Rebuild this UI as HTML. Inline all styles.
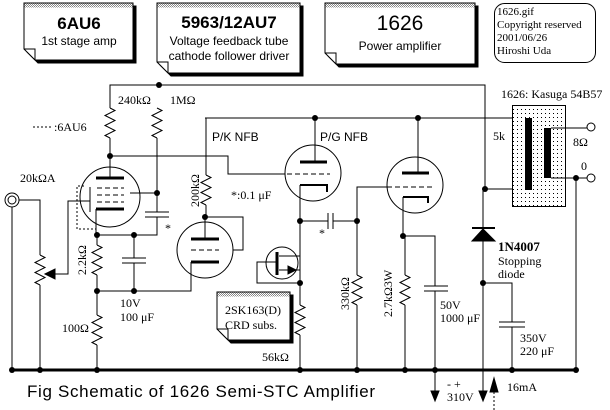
<!DOCTYPE html>
<html><head><meta charset="utf-8"><style>
html,body{margin:0;padding:0;background:#fff}
svg{display:block}
.s{font-family:"Liberation Serif",serif;font-size:12px}
.a{font-family:"Liberation Sans",sans-serif}
</style></head><body>
<svg width="610" height="410" viewBox="0 0 610 410" xmlns="http://www.w3.org/2000/svg">
<defs>
<polyline id="R" points="0,0 5,2.5 -5,7.5 5,12.5 -5,17.5 5,22.5 -5,27.5 0,30" fill="none" stroke="#000"/>
<pattern id="dp" width="4" height="4" patternUnits="userSpaceOnUse"><rect width="4" height="4" fill="#fff"/><rect x="1" y="1" width="1" height="1" fill="#000"/></pattern>
<pattern id="gp" width="2" height="2" patternUnits="userSpaceOnUse"><rect width="2" height="2" fill="#fff"/><rect width="1" height="1" fill="#888"/><rect x="1" y="1" width="1" height="1" fill="#888"/></pattern>
</defs>
<g fill="none" stroke="#000" stroke-width="1">
<polygon points="27,6 136,6 136,63 38,63 27,52" fill="#000"/>
<polygon points="24,3 133,3 133,60 35,60 24,49" fill="#fff"/>
<rect x="24.5" y="3.5" width="108" height="4" fill="url(#gp)" stroke="none"/>
<polyline points="24,49 35,49 35,60"/>
<polygon points="160,6 303,6 303,76 171,76 160,65" fill="#000"/>
<polygon points="157,3 300,3 300,73 168,73 157,62" fill="#fff"/>
<rect x="157.5" y="3.5" width="142" height="4" fill="url(#gp)" stroke="none"/>
<polyline points="157,62 168,62 168,73"/>
<polygon points="328,6 478,6 478,67 339,67 328,56" fill="#000"/>
<polygon points="325,3 475,3 475,64 336,64 325,53" fill="#fff"/>
<rect x="325.5" y="3.5" width="149" height="4" fill="url(#gp)" stroke="none"/>
<polyline points="325,53 336,53 336,64"/>
<rect x="494.5" y="3.5" width="101" height="59" rx="10"/>
<polygon points="220,295 293,295 293,343 231,343 220,332" fill="#000"/>
<polygon points="217,292 290,292 290,340 228,340 217,329" fill="#fff"/>
<rect x="217.5" y="292.5" width="72" height="4" fill="url(#gp)" stroke="none"/>
<polyline points="217,329 228,329 228,340"/>

<path d="M110,108V85H485V189H525"/>
<path d="M205,118H525"/>
<path d="M12,370H576" stroke-width="3"/>
<use href="#R" x="110" y="108"/><use href="#R" x="157" y="108"/>
<use href="#R" x="206" y="175"/><use href="#R" x="97" y="245"/>
<use href="#R" x="97" y="315"/><use href="#R" x="40" y="255"/>
<use href="#R" x="300" y="305"/><use href="#R" x="357" y="275"/>
<use href="#R" x="405" y="275"/>
<circle cx="110" cy="197" r="30"/>
<path d="M110,138V178"/>
<path d="M96,178H124" stroke-width="3"/>
<path d="M97,188H124M97,195H124M97,202H124" stroke-dasharray="5,3"/>
<path d="M96,209H124" stroke-width="3"/>
<path d="M96,209V235H157V217M157,212V138"/>
<path d="M145,212H169M145,217H169"/>
<path d="M130,193H157"/>
<path d="M110,156H228V174H285"/>
<path d="M90,187V212M90,201H68V274H55"/>
<polygon points="45,274 55,269 55,279" fill="#000"/>
<path d="M84,186H77V229H96" stroke-dasharray="2,2"/>
<path d="M97,235V245M97,275V315M97,345V370M40,255V200H19M40,285V370M12,207V370"/>
<circle cx="12" cy="200" r="7"/><circle cx="12" cy="200" r="4"/>
<path d="M134,235V258M134,263V291M97,291H191V262"/>
<path d="M122,258H146M122,263H146"/>
<circle cx="205" cy="250" r="28"/>
<path d="M206,205V217M205,217V239M205,217H243V250H233"/>
<path d="M191,239H219M191,262H219" stroke-width="3"/>
<path d="M191,250H219" stroke-dasharray="5,3"/>
<path d="M206,118V175"/>
<circle cx="313" cy="173" r="28"/>
<path d="M315,118V162"/>
<path d="M300,162H327" stroke-width="3"/>
<path d="M287,174H330" stroke-dasharray="5,3"/>
<path d="M300,185H327V192" stroke-width="2"/>
<path d="M300,185V283M300,221H328M333,221H357"/>
<path d="M328,213V229M333,213V229"/>
<circle cx="282" cy="263" r="16"/>
<path d="M277,252V275" stroke-width="3"/>
<path d="M279,256H300M279,270H300M277,262H257V283H300V305M300,335V370"/>
<polygon points="296,270 288,266 288,274" fill="#000"/>
<circle cx="415" cy="185" r="28"/>
<path d="M418,118V173"/>
<path d="M402,173H429" stroke-width="3"/>
<path d="M387,187H432" stroke-dasharray="5,3"/>
<path d="M403,197H428V203" stroke-width="2"/>
<path d="M357,221V187H387M357,221V275M357,305V370"/>
<path d="M403,197V236H435V286M435,291V370M405,236V275M405,305V370"/>
<path d="M424,286H448M424,291H448"/>
<rect x="512.5" y="105.5" width="53" height="101" fill="url(#dp)"/>
<rect x="525" y="118" width="7" height="72" fill="#000" stroke="none"/>
<rect x="544" y="128" width="7" height="50" fill="#000" stroke="none"/>
<path d="M551,128H587M551,178H587M576,178V370"/>
<circle cx="591" cy="127" r="4" fill="#fff"/><circle cx="591" cy="178" r="4" fill="#fff"/>
<path d="M483,189V400M483,283H512V322M512,327V370M435,370V395"/>
<path d="M472,228H495" stroke-width="2"/>
<polygon points="483,229 472,241 495,241" fill="#000"/>
<path d="M499,322H525M499,327H525"/>
<polygon points="435,401 431,391 439,391" fill="#000"/>
<polygon points="483,401 479,391 487,391" fill="#000"/>
<polygon points="494,378 490,392 498,392" fill="#000"/>
<path d="M494,392V410" stroke-dasharray="2,2"/>
<path d="M33,127H52" stroke-dasharray="2,2"/>
</g>
<g fill="#000">
<circle cx="159" cy="85" r="3"/><circle cx="110" cy="156" r="3"/><circle cx="157" cy="193" r="3"/>
<circle cx="97" cy="235" r="3"/><circle cx="134" cy="235" r="3"/><circle cx="97" cy="291" r="3"/><circle cx="134" cy="291" r="3"/>
<circle cx="205" cy="217" r="3"/><circle cx="315" cy="118" r="3"/><circle cx="418" cy="118" r="3"/>
<circle cx="300" cy="221" r="3"/><circle cx="357" cy="221" r="3"/><circle cx="300" cy="283" r="3"/>
<circle cx="403" cy="236" r="3"/><circle cx="485" cy="189" r="3"/><circle cx="483" cy="283" r="3"/><circle cx="576" cy="178" r="3"/>
<circle cx="12" cy="370" r="3"/><circle cx="40" cy="370" r="3"/><circle cx="97" cy="370" r="3"/><circle cx="300" cy="370" r="3"/>
<circle cx="357" cy="370" r="3"/><circle cx="405" cy="370" r="3"/><circle cx="435" cy="370" r="3"/><circle cx="512" cy="370" r="3"/><circle cx="576" cy="370" r="3"/>
</g>
<g class="a" text-anchor="middle">
<text x="79" y="29" font-size="17" font-weight="bold">6AU6</text>
<text x="79" y="45" font-size="12">1st stage amp</text>
<text x="229" y="28" font-size="17" font-weight="bold">5963/12AU7</text>
<text x="229" y="45" font-size="12">Voltage feedback tube</text>
<text x="229" y="60" font-size="12">cathode follower driver</text>
<text x="400" y="30" font-size="21">1626</text>
<text x="400" y="50" font-size="12">Power amplifier</text>
</g>
<g class="s">
<text x="497" y="15" font-size="11">1626.gif</text>
<text x="497" y="28" font-size="11">Copyright reserved</text>
<text x="497" y="41" font-size="11">2001/06/26</text>
<text x="497" y="54" font-size="11">Hiroshi Uda</text>
<text x="118" y="104">240kΩ</text><text x="170" y="104">1MΩ</text>
<text x="54" y="131">:6AU6</text>
<text x="231" y="199">*:0.1 μF</text>
<text x="20" y="182">20kΩA</text>
<text x="165" y="232">*</text><text x="319" y="237">*</text>
<text x="120" y="307">10V</text><text x="120" y="321">100 μF</text>
<text x="62" y="332">100Ω</text>
<text x="262" y="361">56kΩ</text>
<text x="225" y="314">2SK163(D)</text><text x="225" y="329">CRD subs.</text>
<text x="440" y="309">50V</text><text x="440" y="322">1000 μF</text>
<text x="498" y="251" font-weight="bold" font-size="13">1N4007</text>
<text x="498" y="265">Stopping</text><text x="498" y="278">diode</text>
<text x="520" y="342">350V</text><text x="520" y="355">220 μF</text>
<text x="507" y="391">16mA</text>
<text x="447" y="388">-    +</text>
<text x="447" y="401">310V</text>
<text x="493" y="140">5k</text>
<text x="573" y="146">8Ω</text>
<text x="581" y="170">0</text>
<text x="501" y="98">1626: Kasuga 54B57</text>
<text transform="translate(199,207) rotate(-90)">200kΩ</text>
<text transform="translate(86,275) rotate(-90)">2.2kΩ</text>
<text transform="translate(349,310) rotate(-90)">330kΩ</text>
<text transform="translate(392,317) rotate(-90)">2.7kΩ3W</text>
</g>
<g class="a" font-size="12">
<text x="212" y="141">P/K NFB</text>
<text x="320" y="141">P/G NFB</text>
<text x="27" y="397" font-size="17" textLength="348" lengthAdjust="spacing">Fig  Schematic of 1626  Semi-STC Amplifier</text>
</g>
</svg>
</body></html>
